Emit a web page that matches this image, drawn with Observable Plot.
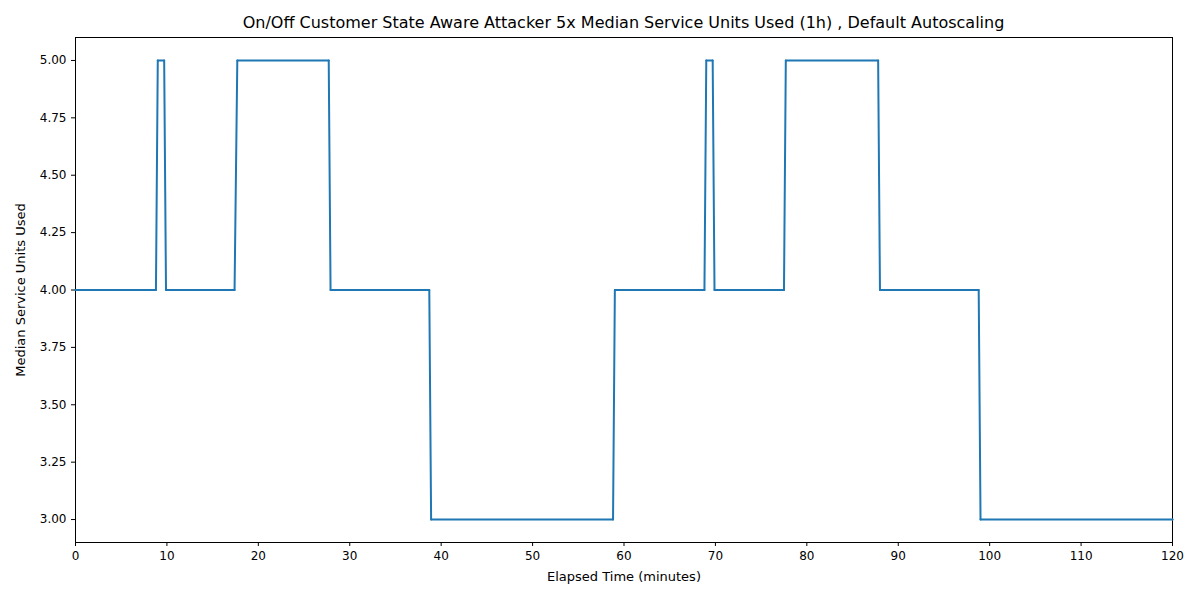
<!DOCTYPE html>
<html><head><meta charset="utf-8">
<script src="https://cdn.jsdelivr.net/npm/d3@7"></script>
<script src="https://cdn.jsdelivr.net/npm/@observablehq/plot@0.6"></script>
<style>
body{margin:0;background:#fff;font-family:"DejaVu Sans",sans-serif;}
#title{height:37px;width:1200px;box-sizing:border-box;padding-left:47px;display:flex;align-items:flex-end;justify-content:center;padding-bottom:5px;font-size:16px;}
g[aria-label="x-axis label"] text, g[aria-label="y-axis label"] text{font-size:13px;}
</style></head><body>
<div id="title">On/Off Customer State Aware Attacker 5x Median Service Units Used (1h) , Default Autoscaling</div>
<div id="chart"></div>
<script>
// step segments: start minute, end minute, median units
const segStart = [0, 9.0, 9.9, 17.7, 27.9, 38.9, 59.0, 69.0, 69.9, 77.7, 88.0, 99.0];
const segEnd   = [8.8, 9.7, 17.4, 27.7, 38.7, 58.8, 68.8, 69.7, 77.5, 87.8, 98.8, 120];
const segValue = [4, 5, 4, 5, 4, 3, 4, 5, 4, 5, 4, 3];

const rows = [];
segStart.forEach((s, i) => {
  rows.push({ t: s, v: segValue[i] });
  rows.push({ t: segEnd[i], v: segValue[i] });
});

const fig = Plot.plot({
  width: 1200,
  height: 563,
  marginTop: 0,
  marginLeft: 75,
  marginRight: 28,
  marginBottom: 58,
  style: { fontFamily: "DejaVu Sans, sans-serif", fontSize: "12px", color: "#000" },
  x: { domain: [0, 120], ticks: d3.range(0, 121, 10), label: "Elapsed Time (minutes)", labelAnchor: "center", labelArrow: "none", labelOffset: 38, tickSize: 4 },
  y: { domain: [2.9, 5.1], ticks: d3.range(3, 5.01, 0.25), tickFormat: d3.format(".2f"), label: "Median Service Units Used", labelAnchor: "center", labelArrow: "none", labelOffset: 60, tickSize: 4 },
  marks: [
    Plot.frame({ stroke: "#000" }),
    Plot.line(rows, { x: "t", y: "v", stroke: "#1f77b4", strokeWidth: 2 }),
    Plot.dot(rows, { x: "t", y: "v", r: 1, fill: "#1f77b4" })
  ]
});
document.getElementById("chart").appendChild(fig);
</script>
</body></html>
